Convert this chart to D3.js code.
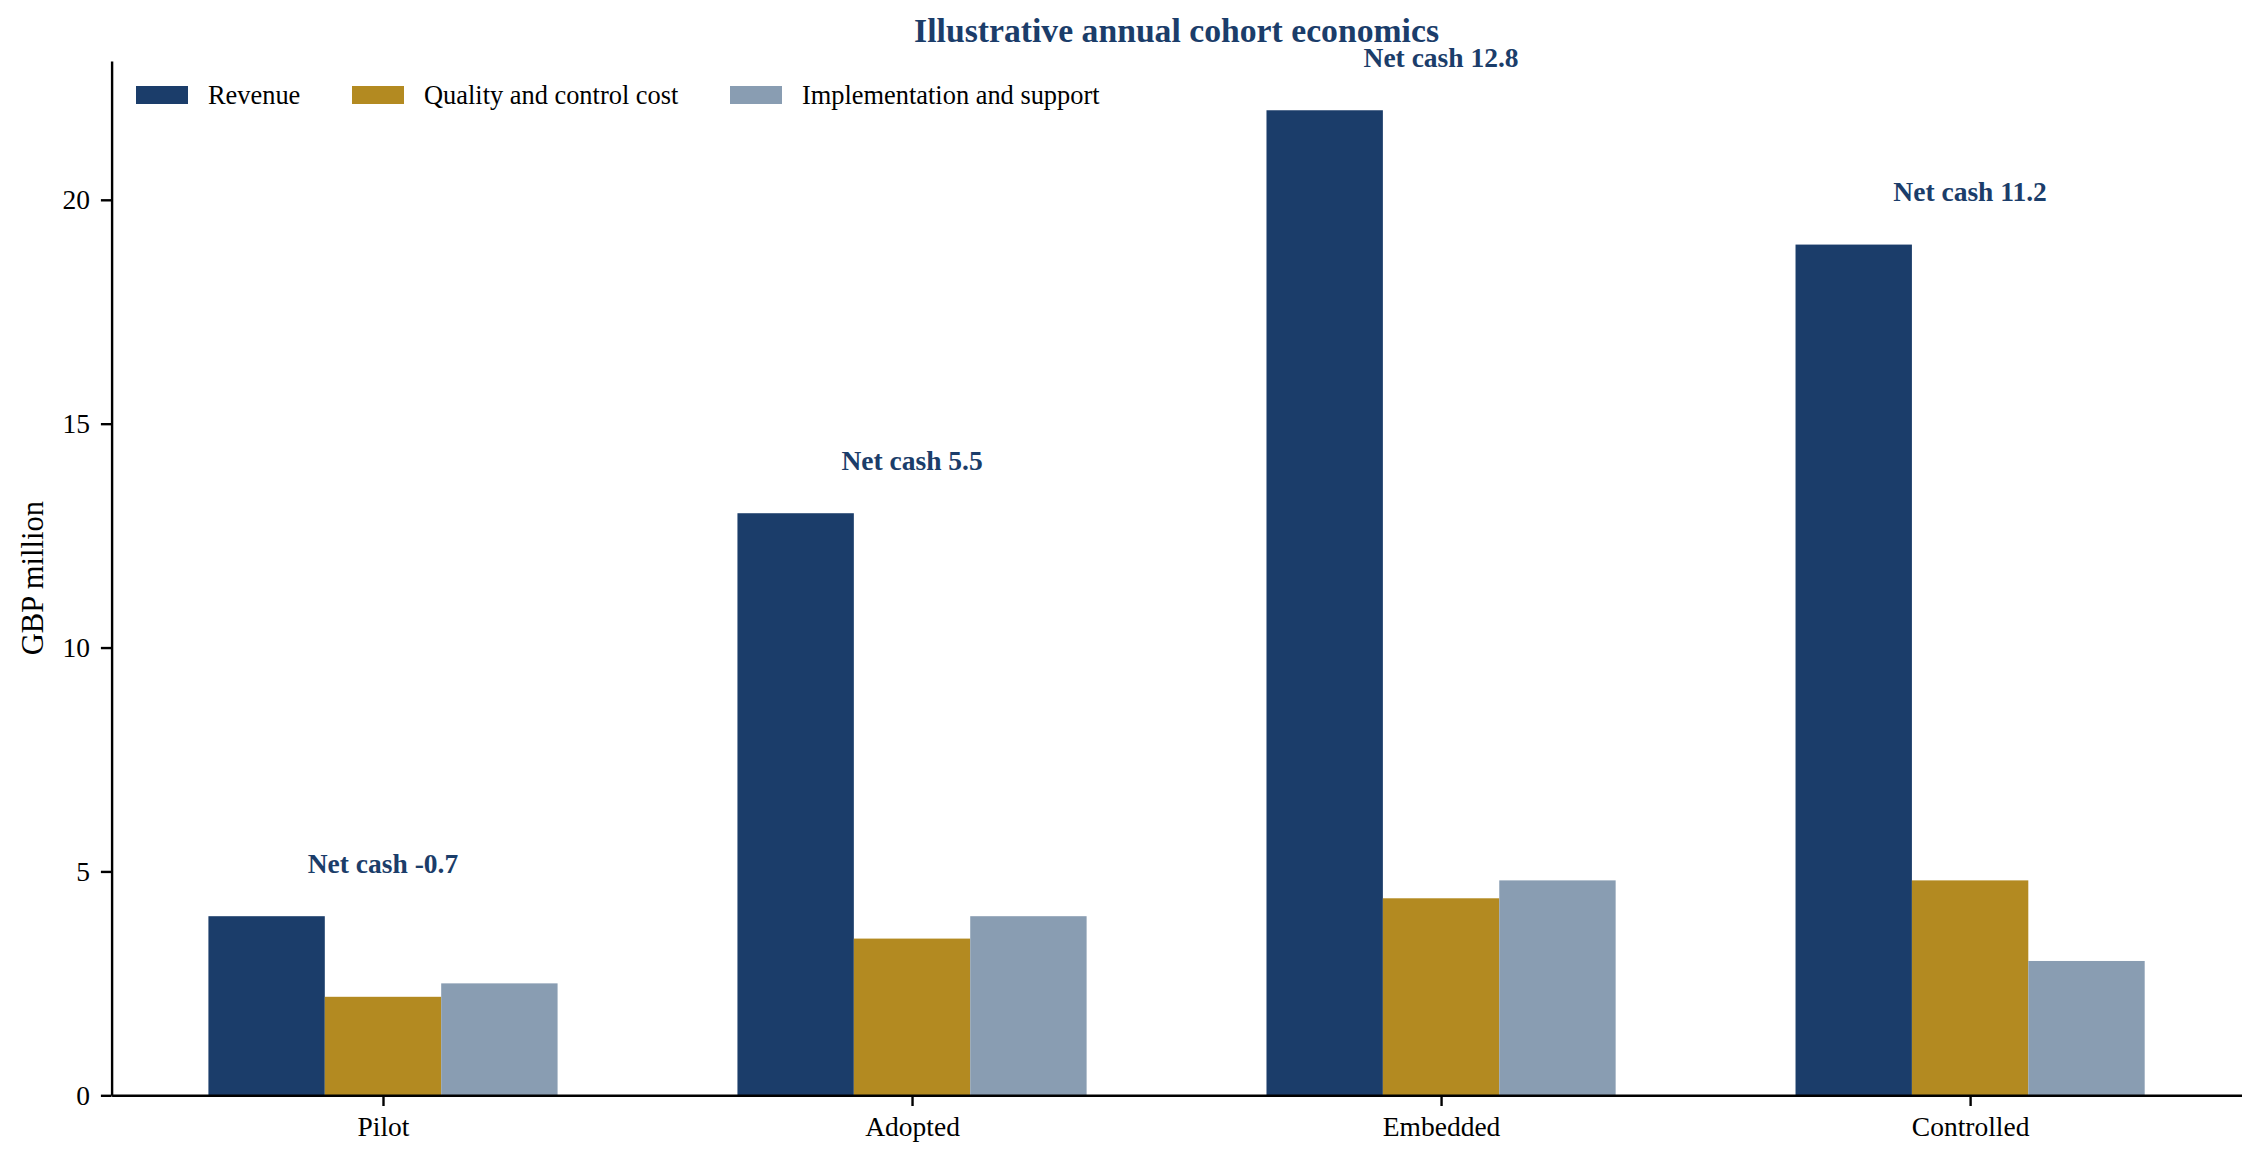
<!DOCTYPE html>
<html>
<head>
<meta charset="utf-8">
<script src="https://cdn.jsdelivr.net/npm/d3@7"></script>
<style>
  body { margin: 0; background: #fff; }
  text { font-family: "Liberation Serif", "Times New Roman", serif; }
</style>
</head>
<body>
<div id="chart"></div>
<script>
const stages = ["Pilot", "Adopted", "Embedded", "Controlled"]
const series_names = ["Revenue", "Quality and control cost", "Implementation and support"]
const revenue = [4.0, 13.0, 22.0, 19.0]
const quality_cost = [2.2, 3.5, 4.4, 4.8]
const implementation = [2.5, 4.0, 4.8, 3.0]
const net_cash = [-0.7, 5.5, 12.8, 11.2]
const y_ticks = [0, 5, 10, 15, 20]

const colors = ["#1b3d6a", "#b38a21", "#899db2"]
const W = 2263, H = 1165
const plot_left = 111.6, plot_right = 2241.5, plot_top = 61, plot_bottom = 1095.3
const bar_w = 0.22

const svg = d3.select("#chart").append("svg")
    .attr("width", W)
    .attr("height", H)
    .attr("viewBox", [0, 0, W, H])

const x = d3.scaleLinear().domain([-0.513, 3.513]).range([plot_left, plot_right])
const y = d3.scaleLinear().domain([0, 23.1]).range([plot_bottom, plot_top])

const allSeries = [revenue, quality_cost, implementation]

// bars, one group per series
allSeries.forEach((vals, s) => {
    svg.append("g").selectAll("rect")
        .data(vals)
        .join("rect")
        .attr("x", (d, i) => x(i + (s - 1) * bar_w - bar_w / 2))
        .attr("width", x(bar_w) - x(0))
        .attr("y", d => y(d))
        .attr("height", d => y(0) - y(d))
        .attr("fill", colors[s])
})

// net cash labels above the revenue bar
svg.append("g").selectAll("text")
    .data(net_cash)
    .join("text")
    .attr("x", (d, i) => x(i))
    .attr("y", (d, i) => y(revenue[i] + 1) + 1.5)
    .attr("text-anchor", "middle")
    .attr("font-size", 27.5)
    .attr("font-weight", "bold")
    .attr("fill", "#1b3d6a")
    .text(d => `Net cash ${d.toFixed(1)}`)

// axes
const xAxis = svg.append("g")
    .attr("transform", `translate(0,${plot_bottom})`)
    .call(d3.axisBottom(x).tickValues(d3.range(stages.length)).tickFormat(i => stages[i])
        .tickSize(10.7).tickPadding(10).tickSizeOuter(0))
const yAxis = svg.append("g")
    .attr("transform", `translate(${plot_left},0)`)
    .call(d3.axisLeft(y).tickValues(y_ticks).tickSize(10.7).tickPadding(11).tickSizeOuter(0))

for (const ax of [xAxis, yAxis]) {
    ax.select(".domain").attr("stroke", "#000").attr("stroke-width", 2.4)
    ax.selectAll(".tick line").attr("stroke", "#000").attr("stroke-width", 2.4)
    ax.selectAll(".tick text")
        .attr("font-family", "Liberation Serif, serif")
        .attr("font-size", 27.5)
        .attr("fill", "#000")
}

svg.append("text")
    .attr("transform", `translate(33,${(plot_top + plot_bottom) / 2}) rotate(-90)`)
    .attr("text-anchor", "middle")
    .attr("dominant-baseline", "central")
    .attr("font-size", 30.6)
    .text("GBP million")

svg.append("text")
    .attr("x", (plot_left + plot_right) / 2)
    .attr("y", 42)
    .attr("text-anchor", "middle")
    .attr("font-size", 33.7)
    .attr("font-weight", "bold")
    .attr("fill", "#1b3d6a")
    .text("Illustrative annual cohort economics")

// legend
const legend_x = [136, 352, 730]
const legend = svg.append("g")
series_names.forEach((name, s) => {
    legend.append("rect")
        .attr("x", legend_x[s]).attr("y", 86)
        .attr("width", 52).attr("height", 18)
        .attr("fill", colors[s])
    legend.append("text")
        .attr("x", legend_x[s] + 72).attr("y", 104)
        .attr("font-size", 26.4)
        .text(name)
})
</script>
</body>
</html>
